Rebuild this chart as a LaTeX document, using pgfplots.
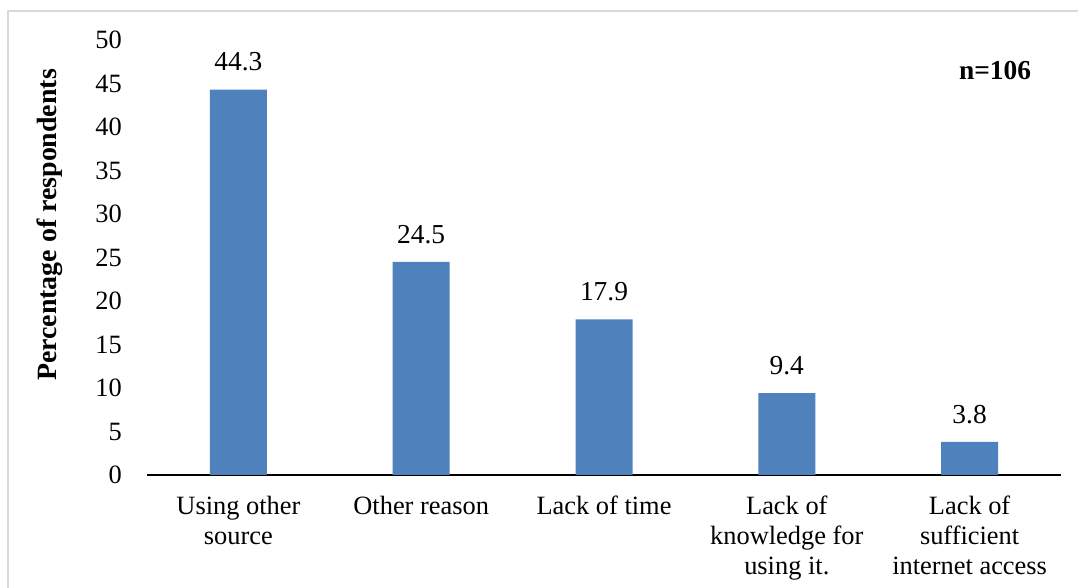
\documentclass[border=0pt]{standalone}
\usepackage{fontspec}
\setmainfont{Liberation Serif}
\usepackage{pgfplots}
\pgfplotsset{compat=1.18}
\definecolor{barblue}{HTML}{4F81BD}
\definecolor{framegray}{HTML}{D9D9D9}
\begin{document}
\begin{tikzpicture}[x=1bp,y=1bp]
\useasboundingbox (0,0) rectangle (1078,588);
\clip (0,0) rectangle (1078,588);
% chart area border
\draw[framegray, line width=1.5bp] (8,-10) -- (8,577) -- (1090,577);
\begin{axis}[
  at={(147bp,113bp)}, anchor=south west,
  scale only axis, width=914bp, height=435bp,
  ybar, bar width=57bp,
  xmin=-0.5, xmax=4.5, ymin=0, ymax=50,
  enlargelimits=false,
  ytick={0,5,...,50},
  xtick={0,1,2,3,4},
  xticklabels={{Using other\\source},{Other reason},{Lack of time},{Lack of\\knowledge for\\using it.},{Lack of\\sufficient\\internet access}},
  axis x line*=bottom, axis y line*=left,
  y axis line style={draw=none},
  x axis line style={black, line width=1.3bp, -},
  major tick length=0pt,
  /pgf/number format/assume math mode=true,
  tick label style={font=\fontsize{26.5}{30}\selectfont},
  yticklabel style={anchor=east, inner sep=0pt, xshift=-25bp},
  xticklabel style={anchor=north, inner sep=0pt, yshift=-21bp, align=center},
  nodes near coords,
  every node near coord/.append style={font=\fontsize{27.5}{30}\selectfont, anchor=south, inner sep=0pt, yshift=18bp, black},
]
\addplot[fill=barblue, draw=none] coordinates {(0,44.3) (1,24.5) (2,17.9) (3,9.4) (4,3.8)};
\end{axis}
\node[rotate=90, anchor=base, font=\bfseries\fontsize{28}{30}\selectfont] at (56,363) {Percentage of respondents};
\node[anchor=base, font=\bfseries\fontsize{27.5}{30}\selectfont] at (995,508) {n=106};
\end{tikzpicture}
\end{document}
